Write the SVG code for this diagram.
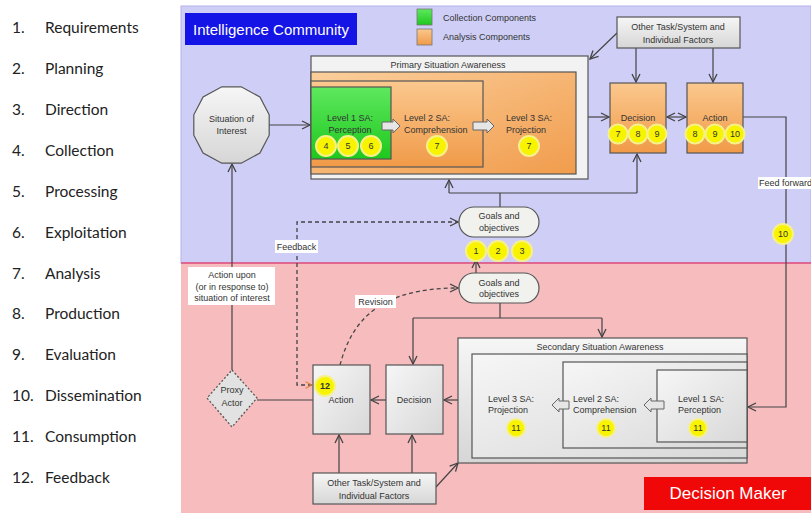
<svg xmlns="http://www.w3.org/2000/svg" width="811" height="513" viewBox="0 0 811 513">
<defs>
<style>
.lst{font-family:Lato,"Liberation Sans",sans-serif;font-size:15.5px;fill:#222}
.t{font-family:"Liberation Sans",Arial,sans-serif;font-size:9px;fill:#333}
.tm{font-family:"Liberation Sans",Arial,sans-serif;font-size:9px;fill:#333;text-anchor:middle}
.num{fill:#f8f400;stroke:#f6f08a;stroke-width:2}
.nt{font-family:"Liberation Sans",Arial,sans-serif;font-size:9px;fill:#333;text-anchor:middle}
.box{stroke:#555;stroke-width:1.2}
.ln{fill:none;stroke:#444;stroke-width:1.2}
.dash{fill:none;stroke:#444;stroke-width:1.3;stroke-dasharray:4,3}
.lbl{fill:#fff}
.barrow{fill:#e6e6e6;stroke:#666;stroke-width:1}
</style>
<linearGradient id="gOr" x1="0" y1="0" x2="0" y2="1"><stop offset="0" stop-color="#fbc88e"/><stop offset="1" stop-color="#f09a48"/></linearGradient>
<linearGradient id="gOr2" x1="0" y1="0" x2="1" y2="1"><stop offset="0" stop-color="#fbcf9c"/><stop offset="1" stop-color="#f19c4c"/></linearGradient>
<linearGradient id="gGr" x1="0" y1="0" x2="0" y2="1"><stop offset="0" stop-color="#5ee85e"/><stop offset="1" stop-color="#1ec81e"/></linearGradient>
<linearGradient id="gGy" x1="0" y1="0" x2="0" y2="1"><stop offset="0" stop-color="#f6f6f6"/><stop offset="1" stop-color="#d6d6d6"/></linearGradient>
<linearGradient id="gGy2" x1="0" y1="0" x2="1" y2="1"><stop offset="0" stop-color="#f6f6f6"/><stop offset="1" stop-color="#d8d8d8"/></linearGradient>
<marker id="ar" viewBox="0 0 10 10" refX="9" refY="5" markerWidth="10" markerHeight="10" markerUnits="userSpaceOnUse" orient="auto-start-reverse"><path d="M1,1 L9,5 L1,9" fill="none" stroke="#444" stroke-width="1.3"/></marker>
<marker id="aro" viewBox="0 0 10 10" refX="9" refY="5" markerWidth="8" markerHeight="8" markerUnits="userSpaceOnUse" orient="auto-start-reverse"><path d="M1,1 L9,5 L1,9" fill="none" stroke="#e08030" stroke-width="1.3"/></marker>
</defs>

<rect x="0" y="0" width="811" height="513" fill="#fff"/>

<g id="legend-list">
<text class="lst" x="12" y="33">1.</text><text class="lst" x="45" y="33">Requirements</text>
<text class="lst" x="12" y="74">2.</text><text class="lst" x="45" y="74">Planning</text>
<text class="lst" x="12" y="115">3.</text><text class="lst" x="45" y="115">Direction</text>
<text class="lst" x="12" y="156">4.</text><text class="lst" x="45" y="156">Collection</text>
<text class="lst" x="12" y="197">5.</text><text class="lst" x="45" y="197">Processing</text>
<text class="lst" x="12" y="238">6.</text><text class="lst" x="45" y="238">Exploitation</text>
<text class="lst" x="12" y="279">7.</text><text class="lst" x="45" y="279">Analysis</text>
<text class="lst" x="12" y="319">8.</text><text class="lst" x="45" y="319">Production</text>
<text class="lst" x="12" y="360">9.</text><text class="lst" x="45" y="360">Evaluation</text>
<text class="lst" x="12" y="401">10.</text><text class="lst" x="45" y="401">Dissemination</text>
<text class="lst" x="12" y="442">11.</text><text class="lst" x="45" y="442">Consumption</text>
<text class="lst" x="12" y="483">12.</text><text class="lst" x="45" y="483">Feedback</text>
</g>

<g id="background">
<rect x="181" y="6" width="630" height="257" fill="#cfcef6" stroke="#b4b2ec" stroke-width="1"/>
<rect x="181" y="263" width="630" height="250" fill="#f6bcbe"/>
<line x1="181" y1="263" x2="811" y2="263" stroke="#e04a7a" stroke-width="1.5"/>
</g>

<g id="title-ic">
<rect x="185" y="13" width="172" height="32" fill="#1414e6"/>
<text x="193" y="35" font-family="'Liberation Sans',Arial,sans-serif" font-size="15" fill="#fff">Intelligence Community</text>
</g>

<g id="legend">
<rect x="417" y="9" width="15" height="16" fill="url(#gGr)" stroke="#777" stroke-width="0.8"/>
<rect x="417" y="29" width="15" height="16" fill="url(#gOr)" stroke="#777" stroke-width="0.8"/>
<text class="t" x="443" y="21">Collection Components</text>
<text class="t" x="443" y="40">Analysis Components</text>
</g>

<g id="connectors">
<path class="ln" d="M269,125 H310" marker-end="url(#ar)"/>
<path class="ln" d="M588,117 H609" marker-end="url(#ar)"/>
<path class="ln" d="M667,117 H686" marker-start="url(#ar)" marker-end="url(#ar)"/>
<path class="ln" d="M636,48 V82" marker-end="url(#ar)"/>
<path class="ln" d="M713,48 V82" marker-end="url(#ar)"/>
<path class="ln" d="M617,33 L590,59" marker-end="url(#ar)"/>
<path class="ln" d="M743,117 H786 V407 H748" marker-end="url(#ar)"/>
<path class="ln" d="M500,207 V193"/>
<path class="ln" d="M449,193 H637"/>
<path class="ln" d="M449,193 V180" marker-end="url(#ar)"/>
<path class="ln" d="M637,193 V154" marker-end="url(#ar)"/>
<path class="dash" d="M312,385 H297 V222 H458" marker-start="url(#aro)" marker-end="url(#ar)"/>
<path class="ln" d="M476,273 V260" marker-end="url(#ar)"/>
<path class="ln" d="M500,303 V318"/>
<path class="ln" d="M413,318 H602"/>
<path class="ln" d="M413,318 V364" marker-end="url(#ar)"/>
<path class="ln" d="M602,318 V337" marker-end="url(#ar)"/>
<path class="ln" d="M458,400 H444" marker-end="url(#ar)"/>
<path class="ln" d="M386,400 H371" marker-end="url(#ar)"/>
<path class="ln" d="M313,400 H257"/>
<path class="ln" d="M232,370 V164" marker-end="url(#ar)"/>
<path class="ln" d="M339,473 V435" marker-end="url(#ar)"/>
<path class="ln" d="M412,473 V435" marker-end="url(#ar)"/>
<path class="ln" d="M436,487 L458,463" marker-end="url(#ar)"/>
<path class="dash" d="M340,365 C352,320 380,288 458,288" marker-end="url(#ar)"/>
<rect class="lbl" x="758" y="177" width="53" height="12"/>
<text class="t" x="759" y="186">Feed forward</text>
<rect class="lbl" x="188" y="267" width="87" height="38"/>
<text class="tm" x="232" y="278">Action upon</text>
<text class="tm" x="232" y="290">(or in response to)</text>
<text class="tm" x="232" y="301">situation of interest</text>
<rect class="lbl" x="275" y="240" width="43" height="13"/>
<text class="tm" x="296.5" y="250">Feedback</text>
<rect class="lbl" x="355" y="295" width="41" height="13"/>
<text class="tm" x="375.5" y="305">Revision</text>
<circle class="num" cx="783" cy="234" r="10"/><text class="nt" x="783" y="237">10</text>
</g>

<g id="situation-of-interest">
<polygon class="box" fill="url(#gGy)" points="269.2,114.8 259.9,97.0 241.2,86.8 221.8,86.8 203.1,97.0 193.8,114.8 193.8,135.2 203.1,153.0 221.8,163.2 241.2,163.2 259.9,153.0 269.2,135.2"/>
<text class="tm" x="231.5" y="122">Situation of</text>
<text class="tm" x="231.5" y="134">Interest</text>
</g>

<g id="primary-sa">
<rect class="box" x="311" y="56" width="277" height="123" fill="#f2f2f2"/>
<text class="tm" x="448" y="68">Primary Situation Awareness</text>
<rect class="box" x="311" y="72" width="265" height="102" fill="url(#gOr2)"/>
<text class="t" x="506" y="121">Level 3 SA:</text>
<text class="t" x="506" y="133">Projection</text>
<circle class="num" cx="529" cy="146" r="10"/><text class="nt" x="529" y="149">7</text>
<rect class="box" x="311" y="81" width="172" height="86" fill="url(#gOr)"/>
<text class="t" x="404" y="121">Level 2 SA:</text>
<text class="t" x="404" y="133">Comprehension</text>
<circle class="num" cx="437" cy="146" r="10"/><text class="nt" x="437" y="149">7</text>
<rect class="box" x="311" y="87" width="80" height="72" fill="url(#gGr)"/>
<text class="tm" x="350" y="121">Level 1 SA:</text>
<text class="tm" x="350" y="133">Perception</text>
<circle class="num" cx="326" cy="146" r="10"/><text class="nt" x="326" y="149">4</text>
<circle class="num" cx="348" cy="146" r="10"/><text class="nt" x="348" y="149">5</text>
<circle class="num" cx="371" cy="146" r="10"/><text class="nt" x="371" y="149">6</text>
<polygon class="barrow" points="382,122 393,122 393,119 400,126 393,133 393,130 382,130"/>
<polygon class="barrow" points="473,122 487,122 487,119 494,126 487,133 487,130 473,130"/>
</g>

<g id="decision-top">
<rect class="box" x="610" y="83" width="56" height="70" fill="url(#gOr)"/>
<text class="tm" x="638" y="121">Decision</text>
<circle class="num" cx="618" cy="134" r="9.5"/><text class="nt" x="618" y="137">7</text>
<circle class="num" cx="638" cy="134" r="9.5"/><text class="nt" x="638" y="137">8</text>
<circle class="num" cx="657" cy="134" r="9.5"/><text class="nt" x="657" y="137">9</text>
</g>

<g id="action-top">
<rect class="box" x="687" y="83" width="56" height="70" fill="url(#gOr)"/>
<text class="tm" x="715" y="121">Action</text>
<circle class="num" cx="695" cy="134" r="9.5"/><text class="nt" x="695" y="137">8</text>
<circle class="num" cx="715" cy="134" r="9.5"/><text class="nt" x="715" y="137">9</text>
<circle class="num" cx="735" cy="134" r="9.5"/><text class="nt" x="735" y="137">10</text>
</g>

<g id="other-factors-top">
<rect class="box" x="617" y="17" width="123" height="31" fill="url(#gGy)"/>
<text class="tm" x="678" y="30">Other Task/System and</text>
<text class="tm" x="678" y="43">Individual  Factors</text>
</g>

<g id="goals-top">
<rect class="box" x="459" y="207" width="80" height="30" rx="15" fill="#f1f1ee"/>
<text class="tm" x="499" y="219">Goals and</text>
<text class="tm" x="499" y="231">objectives</text>
<circle class="num" cx="476" cy="251" r="10"/><text class="nt" x="476" y="254">1</text>
<circle class="num" cx="498" cy="251" r="10"/><text class="nt" x="498" y="254">2</text>
<circle class="num" cx="522" cy="251" r="10"/><text class="nt" x="522" y="254">3</text>
</g>

<g id="goals-bottom">
<rect class="box" x="459" y="273" width="80" height="30" rx="15" fill="#f1f1ee"/>
<text class="tm" x="499" y="286">Goals and</text>
<text class="tm" x="499" y="297">objectives</text>
</g>

<g id="proxy-actor">
<polygon points="232,370 257,398 232,427 207,398" fill="#e2e2e2" stroke="#555" stroke-width="1.3" stroke-dasharray="2,2"/>
<text class="tm" x="232" y="393">Proxy</text>
<text class="tm" x="232" y="406">Actor</text>
</g>

<g id="action-bottom">
<rect class="box" x="313" y="365" width="57" height="69" fill="url(#gGy2)"/>
<text class="tm" x="341" y="403">Action</text>
<circle class="num" cx="325" cy="386" r="10"/><text class="nt" x="325" y="389" font-weight="bold">12</text>
</g>

<g id="decision-bottom">
<rect class="box" x="386" y="365" width="57" height="69" fill="url(#gGy2)"/>
<text class="tm" x="414" y="403">Decision</text>
</g>

<g id="other-factors-bottom">
<rect class="box" x="313" y="473" width="123" height="31" fill="url(#gGy)"/>
<text class="tm" x="374" y="486">Other Task/System and</text>
<text class="tm" x="374" y="499">Individual  Factors</text>
</g>

<g id="secondary-sa">
<rect class="box" x="458" y="338" width="289" height="125" fill="url(#gGy)"/>
<text class="tm" x="600" y="350">Secondary Situation Awareness</text>
<rect class="box" x="472" y="354" width="275" height="104" fill="url(#gGy2)"/>
<text class="t" x="488" y="402">Level 3 SA:</text>
<text class="t" x="488" y="413">Projection</text>
<circle class="num" cx="516" cy="428" r="9"/><text class="nt" x="516" y="431">11</text>
<rect class="box" x="563" y="362" width="184" height="86" fill="url(#gGy2)"/>
<text class="t" x="573" y="402">Level 2 SA:</text>
<text class="t" x="573" y="413">Comprehension</text>
<circle class="num" cx="606" cy="428" r="9"/><text class="nt" x="606" y="431">11</text>
<rect class="box" x="657" y="370" width="90" height="72" fill="url(#gGy2)"/>
<text class="t" x="678" y="402">Level 1 SA:</text>
<text class="t" x="678" y="413">Perception</text>
<circle class="num" cx="698" cy="428" r="9"/><text class="nt" x="698" y="431">11</text>
<polygon class="barrow" points="569,401 559,401 559,398 552,405 559,412 559,409 569,409"/>
<polygon class="barrow" points="664,401 651,401 651,398 644,405 651,412 651,409 664,409"/>
</g>

<g id="title-dm">
<rect x="644" y="477" width="167" height="33" fill="#f00808"/>
<text x="728" y="499" font-family="'Liberation Sans',Arial,sans-serif" font-size="17" fill="#fff" text-anchor="middle">Decision Maker</text>
</g>
</svg>
